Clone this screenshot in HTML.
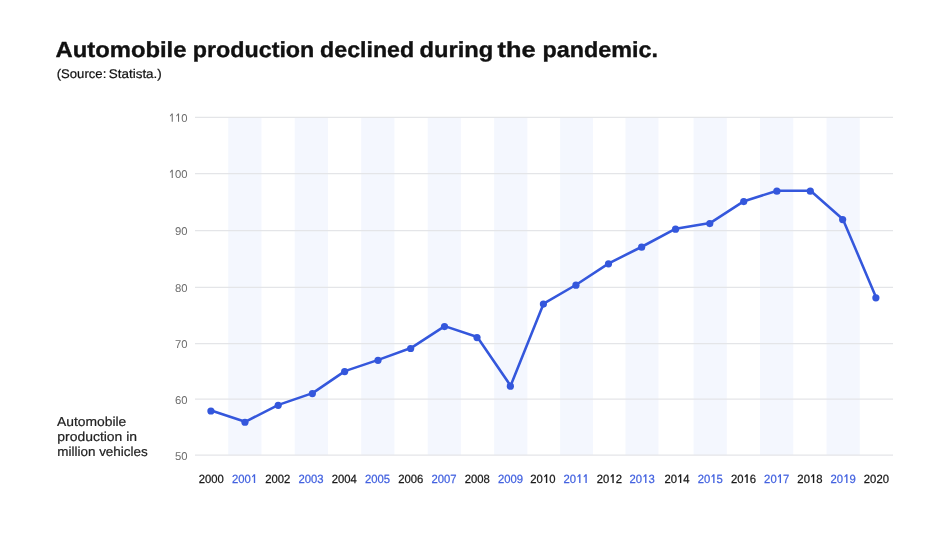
<!DOCTYPE html>
<html><head><meta charset="utf-8"><title>Automobile production</title>
<style>
html,body{margin:0;padding:0;background:#fff;}
body{width:950px;height:534px;overflow:hidden;font-family:"Liberation Sans",sans-serif;}
svg{display:block;will-change:transform;opacity:0.9999}
text{font-family:"Liberation Sans",sans-serif;text-rendering:geometricPrecision;}
</style></head><body>
<svg width="950" height="534" viewBox="0 0 950 534">
<rect width="950" height="534" fill="#ffffff"/>
<rect x="228.24" y="117.38" width="33.24" height="337.75" fill="#f4f7fe"/>
<rect x="294.71" y="117.38" width="33.24" height="337.75" fill="#f4f7fe"/>
<rect x="361.19" y="117.38" width="33.24" height="337.75" fill="#f4f7fe"/>
<rect x="427.67" y="117.38" width="33.24" height="337.75" fill="#f4f7fe"/>
<rect x="494.14" y="117.38" width="33.24" height="337.75" fill="#f4f7fe"/>
<rect x="560.12" y="117.38" width="32.94" height="337.75" fill="#f4f7fe"/>
<rect x="625.50" y="117.38" width="32.94" height="337.75" fill="#f4f7fe"/>
<rect x="693.57" y="117.38" width="33.24" height="337.75" fill="#f4f7fe"/>
<rect x="760.05" y="117.38" width="33.24" height="337.75" fill="#f4f7fe"/>
<rect x="826.52" y="117.38" width="33.24" height="337.75" fill="#f4f7fe"/>
<line x1="195.0" x2="893.0" y1="117.38" y2="117.38" stroke="#e4e5e8" stroke-width="1.15"/>
<path d="M171.71,113.59 L172.78,113.59 L172.78,121.68 L171.71,121.68 L171.71,115.11 L170.27,116.55 L169.82,115.74 Z" fill="#6e6e6e"/>
<path d="M178.00,113.59 L179.06,113.59 L179.06,121.68 L178.00,121.68 L178.00,115.11 L176.55,116.55 L176.10,115.74 Z" fill="#6e6e6e"/>
<text transform="translate(181.26,121.68) scale(1.0000,1)" font-size="11.3" fill="#6e6e6e">0</text>
<line x1="195.0" x2="893.0" y1="173.63" y2="173.63" stroke="#e4e5e8" stroke-width="1.15"/>
<path d="M171.71,169.84 L172.78,169.84 L172.78,177.93 L171.71,177.93 L171.71,171.36 L170.27,172.80 L169.82,171.99 Z" fill="#6e6e6e"/>
<text transform="translate(174.98,177.93) scale(1.0000,1)" font-size="11.3" fill="#6e6e6e">0</text>
<text transform="translate(181.26,177.93) scale(1.0000,1)" font-size="11.3" fill="#6e6e6e">0</text>
<line x1="195.0" x2="893.0" y1="230.58" y2="230.58" stroke="#e4e5e8" stroke-width="1.15"/>
<text transform="translate(174.98,234.88) scale(1.0000,1)" font-size="11.3" fill="#6e6e6e">9</text>
<text transform="translate(181.26,234.88) scale(1.0000,1)" font-size="11.3" fill="#6e6e6e">0</text>
<line x1="195.0" x2="893.0" y1="287.40" y2="287.40" stroke="#e4e5e8" stroke-width="1.15"/>
<text transform="translate(174.98,291.80) scale(1.0000,1)" font-size="11.3" fill="#6e6e6e">8</text>
<text transform="translate(181.26,291.80) scale(1.0000,1)" font-size="11.3" fill="#6e6e6e">0</text>
<line x1="195.0" x2="893.0" y1="343.67" y2="343.67" stroke="#e4e5e8" stroke-width="1.15"/>
<text transform="translate(174.98,347.97) scale(1.0000,1)" font-size="11.3" fill="#6e6e6e">7</text>
<text transform="translate(181.26,347.97) scale(1.0000,1)" font-size="11.3" fill="#6e6e6e">0</text>
<line x1="195.0" x2="893.0" y1="399.07" y2="399.07" stroke="#e4e5e8" stroke-width="1.15"/>
<text transform="translate(174.98,403.52) scale(1.0000,1)" font-size="11.3" fill="#6e6e6e">6</text>
<text transform="translate(181.26,403.52) scale(1.0000,1)" font-size="11.3" fill="#6e6e6e">0</text>
<line x1="195.0" x2="893.0" y1="455.13" y2="455.13" stroke="#e4e5e8" stroke-width="1.15"/>
<text transform="translate(174.98,459.93) scale(1.0000,1)" font-size="11.3" fill="#6e6e6e">5</text>
<text transform="translate(181.26,459.93) scale(1.0000,1)" font-size="11.3" fill="#6e6e6e">0</text>
<text transform="translate(198.77,482.80) scale(0.9521,1)" font-size="11.85" fill="#1a1a1a" stroke="#1a1a1a" stroke-width="0.25">2</text>
<text transform="translate(205.04,482.80) scale(0.9521,1)" font-size="11.85" fill="#1a1a1a" stroke="#1a1a1a" stroke-width="0.25">0</text>
<text transform="translate(211.32,482.80) scale(0.9521,1)" font-size="11.85" fill="#1a1a1a" stroke="#1a1a1a" stroke-width="0.25">0</text>
<text transform="translate(217.59,482.80) scale(0.9521,1)" font-size="11.85" fill="#1a1a1a" stroke="#1a1a1a" stroke-width="0.25">0</text>
<text transform="translate(232.01,482.80) scale(0.9521,1)" font-size="11.85" fill="#4463e0" stroke="#4463e0" stroke-width="0.25">2</text>
<text transform="translate(238.28,482.80) scale(0.9521,1)" font-size="11.85" fill="#4463e0" stroke="#4463e0" stroke-width="0.25">0</text>
<text transform="translate(244.56,482.80) scale(0.9521,1)" font-size="11.85" fill="#4463e0" stroke="#4463e0" stroke-width="0.25">0</text>
<path d="M253.82,474.32 L255.18,474.32 L255.18,482.93 L253.82,482.93 L253.82,475.92 L252.43,477.42 L251.96,476.57 Z" fill="#4463e0"/>
<text transform="translate(265.25,482.80) scale(0.9521,1)" font-size="11.85" fill="#1a1a1a" stroke="#1a1a1a" stroke-width="0.25">2</text>
<text transform="translate(271.52,482.80) scale(0.9521,1)" font-size="11.85" fill="#1a1a1a" stroke="#1a1a1a" stroke-width="0.25">0</text>
<text transform="translate(277.80,482.80) scale(0.9521,1)" font-size="11.85" fill="#1a1a1a" stroke="#1a1a1a" stroke-width="0.25">0</text>
<text transform="translate(284.07,482.80) scale(0.9521,1)" font-size="11.85" fill="#1a1a1a" stroke="#1a1a1a" stroke-width="0.25">2</text>
<text transform="translate(298.48,482.80) scale(0.9521,1)" font-size="11.85" fill="#4463e0" stroke="#4463e0" stroke-width="0.25">2</text>
<text transform="translate(304.76,482.80) scale(0.9521,1)" font-size="11.85" fill="#4463e0" stroke="#4463e0" stroke-width="0.25">0</text>
<text transform="translate(311.03,482.80) scale(0.9521,1)" font-size="11.85" fill="#4463e0" stroke="#4463e0" stroke-width="0.25">0</text>
<text transform="translate(317.31,482.80) scale(0.9521,1)" font-size="11.85" fill="#4463e0" stroke="#4463e0" stroke-width="0.25">3</text>
<text transform="translate(331.72,482.80) scale(0.9521,1)" font-size="11.85" fill="#1a1a1a" stroke="#1a1a1a" stroke-width="0.25">2</text>
<text transform="translate(338.00,482.80) scale(0.9521,1)" font-size="11.85" fill="#1a1a1a" stroke="#1a1a1a" stroke-width="0.25">0</text>
<text transform="translate(344.27,482.80) scale(0.9521,1)" font-size="11.85" fill="#1a1a1a" stroke="#1a1a1a" stroke-width="0.25">0</text>
<text transform="translate(350.55,482.80) scale(0.9521,1)" font-size="11.85" fill="#1a1a1a" stroke="#1a1a1a" stroke-width="0.25">4</text>
<text transform="translate(364.96,482.80) scale(0.9521,1)" font-size="11.85" fill="#4463e0" stroke="#4463e0" stroke-width="0.25">2</text>
<text transform="translate(371.23,482.80) scale(0.9521,1)" font-size="11.85" fill="#4463e0" stroke="#4463e0" stroke-width="0.25">0</text>
<text transform="translate(377.51,482.80) scale(0.9521,1)" font-size="11.85" fill="#4463e0" stroke="#4463e0" stroke-width="0.25">0</text>
<text transform="translate(383.78,482.80) scale(0.9521,1)" font-size="11.85" fill="#4463e0" stroke="#4463e0" stroke-width="0.25">5</text>
<text transform="translate(398.20,482.80) scale(0.9521,1)" font-size="11.85" fill="#1a1a1a" stroke="#1a1a1a" stroke-width="0.25">2</text>
<text transform="translate(404.47,482.80) scale(0.9521,1)" font-size="11.85" fill="#1a1a1a" stroke="#1a1a1a" stroke-width="0.25">0</text>
<text transform="translate(410.75,482.80) scale(0.9521,1)" font-size="11.85" fill="#1a1a1a" stroke="#1a1a1a" stroke-width="0.25">0</text>
<text transform="translate(417.02,482.80) scale(0.9521,1)" font-size="11.85" fill="#1a1a1a" stroke="#1a1a1a" stroke-width="0.25">6</text>
<text transform="translate(431.44,482.80) scale(0.9521,1)" font-size="11.85" fill="#4463e0" stroke="#4463e0" stroke-width="0.25">2</text>
<text transform="translate(437.71,482.80) scale(0.9521,1)" font-size="11.85" fill="#4463e0" stroke="#4463e0" stroke-width="0.25">0</text>
<text transform="translate(443.99,482.80) scale(0.9521,1)" font-size="11.85" fill="#4463e0" stroke="#4463e0" stroke-width="0.25">0</text>
<text transform="translate(450.26,482.80) scale(0.9521,1)" font-size="11.85" fill="#4463e0" stroke="#4463e0" stroke-width="0.25">7</text>
<text transform="translate(464.67,482.80) scale(0.9521,1)" font-size="11.85" fill="#1a1a1a" stroke="#1a1a1a" stroke-width="0.25">2</text>
<text transform="translate(470.95,482.80) scale(0.9521,1)" font-size="11.85" fill="#1a1a1a" stroke="#1a1a1a" stroke-width="0.25">0</text>
<text transform="translate(477.22,482.80) scale(0.9521,1)" font-size="11.85" fill="#1a1a1a" stroke="#1a1a1a" stroke-width="0.25">0</text>
<text transform="translate(483.50,482.80) scale(0.9521,1)" font-size="11.85" fill="#1a1a1a" stroke="#1a1a1a" stroke-width="0.25">8</text>
<text transform="translate(497.91,482.80) scale(0.9521,1)" font-size="11.85" fill="#4463e0" stroke="#4463e0" stroke-width="0.25">2</text>
<text transform="translate(504.19,482.80) scale(0.9521,1)" font-size="11.85" fill="#4463e0" stroke="#4463e0" stroke-width="0.25">0</text>
<text transform="translate(510.46,482.80) scale(0.9521,1)" font-size="11.85" fill="#4463e0" stroke="#4463e0" stroke-width="0.25">0</text>
<text transform="translate(516.74,482.80) scale(0.9521,1)" font-size="11.85" fill="#4463e0" stroke="#4463e0" stroke-width="0.25">9</text>
<text transform="translate(530.35,482.80) scale(0.9521,1)" font-size="11.85" fill="#1a1a1a" stroke="#1a1a1a" stroke-width="0.25">2</text>
<text transform="translate(536.62,482.80) scale(0.9521,1)" font-size="11.85" fill="#1a1a1a" stroke="#1a1a1a" stroke-width="0.25">0</text>
<path d="M545.89,474.32 L547.25,474.32 L547.25,482.93 L545.89,482.93 L545.89,475.92 L544.50,477.42 L544.02,476.57 Z" fill="#1a1a1a"/>
<text transform="translate(549.18,482.80) scale(0.9521,1)" font-size="11.85" fill="#1a1a1a" stroke="#1a1a1a" stroke-width="0.25">0</text>
<text transform="translate(563.59,482.80) scale(0.9521,1)" font-size="11.85" fill="#4463e0" stroke="#4463e0" stroke-width="0.25">2</text>
<text transform="translate(569.86,482.80) scale(0.9521,1)" font-size="11.85" fill="#4463e0" stroke="#4463e0" stroke-width="0.25">0</text>
<path d="M579.13,474.32 L580.49,474.32 L580.49,482.93 L579.13,482.93 L579.13,475.92 L577.74,477.42 L577.26,476.57 Z" fill="#4463e0"/>
<path d="M585.40,474.32 L586.77,474.32 L586.77,482.93 L585.40,482.93 L585.40,475.92 L584.01,477.42 L583.54,476.57 Z" fill="#4463e0"/>
<text transform="translate(596.83,482.80) scale(0.9521,1)" font-size="11.85" fill="#1a1a1a" stroke="#1a1a1a" stroke-width="0.25">2</text>
<text transform="translate(603.10,482.80) scale(0.9521,1)" font-size="11.85" fill="#1a1a1a" stroke="#1a1a1a" stroke-width="0.25">0</text>
<path d="M612.37,474.32 L613.73,474.32 L613.73,482.93 L612.37,482.93 L612.37,475.92 L610.97,477.42 L610.50,476.57 Z" fill="#1a1a1a"/>
<text transform="translate(615.65,482.80) scale(0.9521,1)" font-size="11.85" fill="#1a1a1a" stroke="#1a1a1a" stroke-width="0.25">2</text>
<text transform="translate(629.56,482.80) scale(0.9521,1)" font-size="11.85" fill="#4463e0" stroke="#4463e0" stroke-width="0.25">2</text>
<text transform="translate(635.84,482.80) scale(0.9521,1)" font-size="11.85" fill="#4463e0" stroke="#4463e0" stroke-width="0.25">0</text>
<path d="M645.10,474.32 L646.47,474.32 L646.47,482.93 L645.10,482.93 L645.10,475.92 L643.71,477.42 L643.24,476.57 Z" fill="#4463e0"/>
<text transform="translate(648.39,482.80) scale(0.9521,1)" font-size="11.85" fill="#4463e0" stroke="#4463e0" stroke-width="0.25">3</text>
<text transform="translate(664.40,482.80) scale(0.9521,1)" font-size="11.85" fill="#1a1a1a" stroke="#1a1a1a" stroke-width="0.25">2</text>
<text transform="translate(670.68,482.80) scale(0.9521,1)" font-size="11.85" fill="#1a1a1a" stroke="#1a1a1a" stroke-width="0.25">0</text>
<path d="M679.94,474.32 L681.31,474.32 L681.31,482.93 L679.94,482.93 L679.94,475.92 L678.55,477.42 L678.08,476.57 Z" fill="#1a1a1a"/>
<text transform="translate(683.23,482.80) scale(0.9521,1)" font-size="11.85" fill="#1a1a1a" stroke="#1a1a1a" stroke-width="0.25">4</text>
<text transform="translate(697.64,482.80) scale(0.9521,1)" font-size="11.85" fill="#4463e0" stroke="#4463e0" stroke-width="0.25">2</text>
<text transform="translate(703.92,482.80) scale(0.9521,1)" font-size="11.85" fill="#4463e0" stroke="#4463e0" stroke-width="0.25">0</text>
<path d="M713.18,474.32 L714.54,474.32 L714.54,482.93 L713.18,482.93 L713.18,475.92 L711.79,477.42 L711.31,476.57 Z" fill="#4463e0"/>
<text transform="translate(716.47,482.80) scale(0.9521,1)" font-size="11.85" fill="#4463e0" stroke="#4463e0" stroke-width="0.25">5</text>
<text transform="translate(730.88,482.80) scale(0.9521,1)" font-size="11.85" fill="#1a1a1a" stroke="#1a1a1a" stroke-width="0.25">2</text>
<text transform="translate(737.15,482.80) scale(0.9521,1)" font-size="11.85" fill="#1a1a1a" stroke="#1a1a1a" stroke-width="0.25">0</text>
<path d="M746.42,474.32 L747.78,474.32 L747.78,482.93 L746.42,482.93 L746.42,475.92 L745.03,477.42 L744.55,476.57 Z" fill="#1a1a1a"/>
<text transform="translate(749.70,482.80) scale(0.9521,1)" font-size="11.85" fill="#1a1a1a" stroke="#1a1a1a" stroke-width="0.25">6</text>
<text transform="translate(764.12,482.80) scale(0.9521,1)" font-size="11.85" fill="#4463e0" stroke="#4463e0" stroke-width="0.25">2</text>
<text transform="translate(770.39,482.80) scale(0.9521,1)" font-size="11.85" fill="#4463e0" stroke="#4463e0" stroke-width="0.25">0</text>
<path d="M779.66,474.32 L781.02,474.32 L781.02,482.93 L779.66,482.93 L779.66,475.92 L778.26,477.42 L777.79,476.57 Z" fill="#4463e0"/>
<text transform="translate(782.94,482.80) scale(0.9521,1)" font-size="11.85" fill="#4463e0" stroke="#4463e0" stroke-width="0.25">7</text>
<text transform="translate(797.35,482.80) scale(0.9521,1)" font-size="11.85" fill="#1a1a1a" stroke="#1a1a1a" stroke-width="0.25">2</text>
<text transform="translate(803.63,482.80) scale(0.9521,1)" font-size="11.85" fill="#1a1a1a" stroke="#1a1a1a" stroke-width="0.25">0</text>
<path d="M812.89,474.32 L814.26,474.32 L814.26,482.93 L812.89,482.93 L812.89,475.92 L811.50,477.42 L811.03,476.57 Z" fill="#1a1a1a"/>
<text transform="translate(816.18,482.80) scale(0.9521,1)" font-size="11.85" fill="#1a1a1a" stroke="#1a1a1a" stroke-width="0.25">8</text>
<text transform="translate(830.59,482.80) scale(0.9521,1)" font-size="11.85" fill="#4463e0" stroke="#4463e0" stroke-width="0.25">2</text>
<text transform="translate(836.87,482.80) scale(0.9521,1)" font-size="11.85" fill="#4463e0" stroke="#4463e0" stroke-width="0.25">0</text>
<path d="M846.13,474.32 L847.50,474.32 L847.50,482.93 L846.13,482.93 L846.13,475.92 L844.74,477.42 L844.27,476.57 Z" fill="#4463e0"/>
<text transform="translate(849.42,482.80) scale(0.9521,1)" font-size="11.85" fill="#4463e0" stroke="#4463e0" stroke-width="0.25">9</text>
<text transform="translate(863.83,482.80) scale(0.9521,1)" font-size="11.85" fill="#1a1a1a" stroke="#1a1a1a" stroke-width="0.25">2</text>
<text transform="translate(870.11,482.80) scale(0.9521,1)" font-size="11.85" fill="#1a1a1a" stroke="#1a1a1a" stroke-width="0.25">0</text>
<text transform="translate(876.38,482.80) scale(0.9521,1)" font-size="11.85" fill="#1a1a1a" stroke="#1a1a1a" stroke-width="0.25">2</text>
<text transform="translate(882.66,482.80) scale(0.9521,1)" font-size="11.85" fill="#1a1a1a" stroke="#1a1a1a" stroke-width="0.25">0</text>
<polyline points="211.17,410.53 245.21,421.78 278.45,404.90 312.63,393.08 344.92,371.13 378.26,359.87 410.90,348.06 444.74,326.11 477.27,337.08 510.61,385.76 543.65,303.59 576.19,284.74 608.78,263.35 641.86,246.75 675.80,228.74 710.04,223.11 743.98,201.16 777.12,190.75 810.55,190.75 842.89,219.17 876.13,297.40" fill="none" stroke="#3457dc" stroke-width="2.55" stroke-linejoin="round" stroke-linecap="round"/>
<circle cx="210.92" cy="410.98" r="3.6" fill="#3457dc"/>
<circle cx="244.96" cy="422.23" r="3.6" fill="#3457dc"/>
<circle cx="278.20" cy="405.35" r="3.6" fill="#3457dc"/>
<circle cx="312.38" cy="393.53" r="3.6" fill="#3457dc"/>
<circle cx="344.67" cy="371.58" r="3.6" fill="#3457dc"/>
<circle cx="378.01" cy="360.32" r="3.6" fill="#3457dc"/>
<circle cx="410.65" cy="348.51" r="3.6" fill="#3457dc"/>
<circle cx="444.49" cy="326.56" r="3.6" fill="#3457dc"/>
<circle cx="477.02" cy="337.53" r="3.6" fill="#3457dc"/>
<circle cx="510.36" cy="386.21" r="3.6" fill="#3457dc"/>
<circle cx="543.40" cy="304.04" r="3.6" fill="#3457dc"/>
<circle cx="575.94" cy="285.19" r="3.6" fill="#3457dc"/>
<circle cx="608.53" cy="263.80" r="3.6" fill="#3457dc"/>
<circle cx="641.61" cy="247.20" r="3.6" fill="#3457dc"/>
<circle cx="675.55" cy="229.19" r="3.6" fill="#3457dc"/>
<circle cx="709.79" cy="223.56" r="3.6" fill="#3457dc"/>
<circle cx="743.73" cy="201.61" r="3.6" fill="#3457dc"/>
<circle cx="776.87" cy="191.20" r="3.6" fill="#3457dc"/>
<circle cx="810.30" cy="191.20" r="3.6" fill="#3457dc"/>
<circle cx="842.64" cy="219.62" r="3.6" fill="#3457dc"/>
<circle cx="875.88" cy="297.85" r="3.6" fill="#3457dc"/>
<text x="55.48" y="57.4" font-size="21.8" font-weight="bold" fill="#111" stroke="#111" stroke-width="0.35" textLength="131.02" lengthAdjust="spacingAndGlyphs">Automobile</text>
<text x="192.78" y="57.4" font-size="21.8" font-weight="bold" fill="#111" stroke="#111" stroke-width="0.35" textLength="121.55" lengthAdjust="spacingAndGlyphs">production</text>
<text x="320.13" y="57.4" font-size="21.8" font-weight="bold" fill="#111" stroke="#111" stroke-width="0.35" textLength="94.04" lengthAdjust="spacingAndGlyphs">declined</text>
<text x="419.54" y="57.4" font-size="21.8" font-weight="bold" fill="#111" stroke="#111" stroke-width="0.35" textLength="73.76" lengthAdjust="spacingAndGlyphs">during</text>
<text x="497.61" y="57.4" font-size="21.8" font-weight="bold" fill="#111" stroke="#111" stroke-width="0.35" textLength="38.00" lengthAdjust="spacingAndGlyphs">the</text>
<text x="542.50" y="57.4" font-size="21.8" font-weight="bold" fill="#111" stroke="#111" stroke-width="0.35" textLength="115.51" lengthAdjust="spacingAndGlyphs">pandemic.</text>

<text x="56.7" y="77.75" font-size="12.6" fill="#111" stroke="#111" stroke-width="0.2" textLength="49.6" lengthAdjust="spacingAndGlyphs">(Source:</text>
<text x="108.8" y="77.75" font-size="12.6" fill="#111" stroke="#111" stroke-width="0.2" textLength="53" lengthAdjust="spacingAndGlyphs">Statista.)</text>
<text x="57" y="426.1" font-size="13" fill="#222" stroke="#222" stroke-width="0.2" textLength="69.3" lengthAdjust="spacingAndGlyphs">Automobile</text>
<text x="57.3" y="441.1" font-size="13" fill="#222" stroke="#222" stroke-width="0.2" textLength="79.8" lengthAdjust="spacingAndGlyphs">production in</text>
<text x="57.3" y="456.1" font-size="13" fill="#222" stroke="#222" stroke-width="0.2" textLength="90.4" lengthAdjust="spacingAndGlyphs">million vehicles</text>
</svg>
</body></html>
